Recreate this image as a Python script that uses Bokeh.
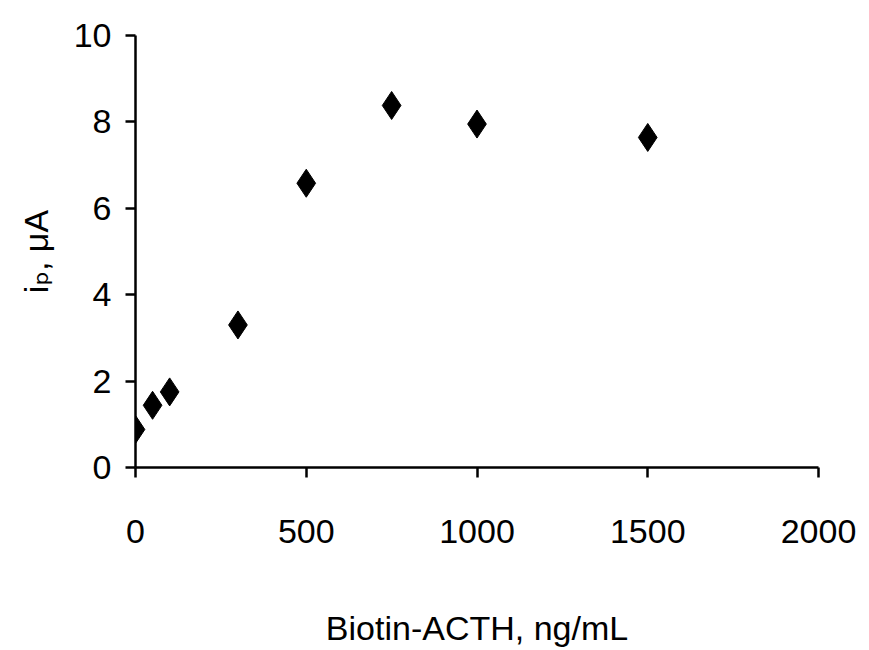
from bokeh.plotting import figure
from bokeh.models import Range1d, FixedTicker
from bokeh.embed import file_html
from bokeh.resources import INLINE

conc = [0, 50, 100, 300, 500, 750, 1000, 1500]
current = [0.88, 1.44, 1.75, 3.30, 6.58, 8.38, 7.95, 7.64]
x_ticks = [0, 500, 1000, 1500, 2000]
y_ticks = [0, 2, 4, 6, 8, 10]

FONT = "'Liberation Sans', Arial, 'DejaVu Sans'"

p = figure(width=869, height=650, output_backend="svg", toolbar_location=None,
           x_range=Range1d(0, 2000), y_range=Range1d(0, 10),
           min_border_left=135, min_border_right=51, min_border_top=35, min_border_bottom=183)

p.scatter(conc, current, marker="diamond", size=28, color="black")

p.grid.visible = False
p.outline_line_color = None
p.background_fill_color = "white"
p.border_fill_color = "white"

for ax in (p.xaxis[0], p.yaxis[0]):
    ax.axis_line_width = 2.5
    ax.axis_line_color = "black"
    ax.major_tick_line_width = 2.5
    ax.major_tick_line_color = "black"
    ax.major_tick_out = 10
    ax.major_tick_in = 0
    ax.minor_tick_line_color = None
    ax.major_label_text_font = FONT
    ax.major_label_text_font_size = "34px"
    ax.major_label_text_color = "black"
    ax.axis_label_text_font = FONT
    ax.axis_label_text_font_size = "34px"
    ax.axis_label_text_font_style = "normal"
    ax.axis_label_text_color = "black"

p.xaxis.ticker = FixedTicker(ticks=x_ticks)
p.yaxis.ticker = FixedTicker(ticks=y_ticks)
p.xaxis.axis_label = "Biotin-ACTH, ng/mL"
p.yaxis.axis_label = "i\u209a, \u03bcA"
p.xaxis.major_label_standoff = 42
p.xaxis.axis_label_standoff = 63
p.yaxis.major_label_standoff = 14
p.yaxis.axis_label_standoff = 16

open("out.html", "w").write(file_html(p, INLINE))
